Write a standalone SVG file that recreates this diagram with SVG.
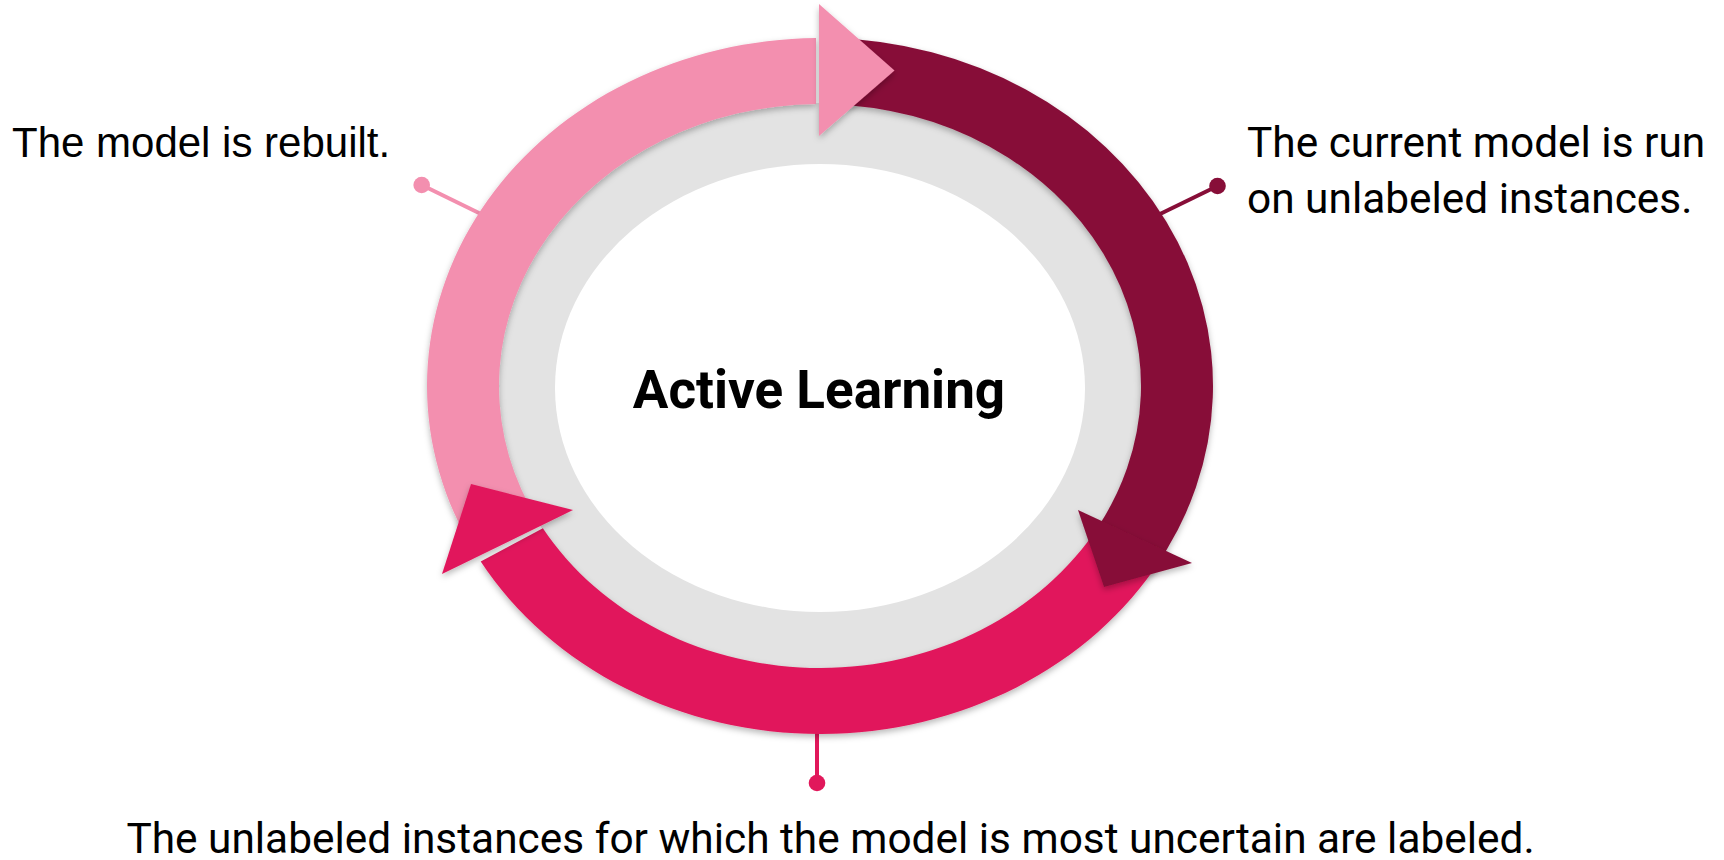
<svg xmlns="http://www.w3.org/2000/svg" width="1724" height="860" viewBox="0 0 1724 860">
  <style>
    .label { font-family: Roboto, "Liberation Sans", sans-serif; font-size: 42.4px; fill: #000; }
    .label-left { font-family: "Liberation Sans", Arial, sans-serif; font-size: 42px; fill: #000; }
    .title { font-family: Roboto, "Liberation Sans", sans-serif; font-size: 53px; font-weight: bold; fill: #000; }
    .pink { fill: #F38FAF; }
    .dark { fill: #870E38; }
    .crimson { fill: #E1185B; }
    .band { filter: url(#shadow); }
    .lead { stroke-width: 4; fill: none; }
  </style>
  <defs>
    <filter id="shadow" x="-10%" y="-10%" width="120%" height="120%">
      <feDropShadow dx="0" dy="3" stdDeviation="3" flood-color="#000" flood-opacity="0.28"/>
    </filter>
  </defs>

  <rect width="1724" height="860" fill="#fff"/>

  <!-- pointer lines from the ring to each caption -->
  <g id="connectors">
    <line class="lead" x1="421.7" y1="185" x2="481" y2="214" stroke="#F38FAF"/>
    <circle cx="421.7" cy="185" r="8.3" class="pink"/>
    <line class="lead" x1="1217.5" y1="186" x2="1160" y2="214" stroke="#870E38"/>
    <circle cx="1217.5" cy="186" r="8.3" class="dark"/>
    <line class="lead" x1="817" y1="730" x2="817" y2="783" stroke="#E1185B"/>
    <circle cx="817" cy="783" r="8.3" class="crimson"/>
  </g>

  <!-- centre: grey ring and white disc -->
  <g id="center">
    <ellipse cx="820" cy="386" rx="322" ry="283" fill="#E3E3E3"/>
    <ellipse cx="820" cy="388" rx="265" ry="224" fill="#FFFFFF"/>
    <text class="title" x="819" y="408" text-anchor="middle">Active Learning</text>
  </g>

  <!-- step 2: label the uncertain instances (bottom arc) -->
  <g id="step-label">
    <path class="crimson band" d="M 1160.35 560 A 393 348 0 0 1 480.71 561.58 L 542.87 528.28 A 321 282 0 0 0 1098 527 Z"/>
    <text class="label" x="830.5" y="853" text-anchor="middle">The unlabeled instances for which the model is most uncertain are labeled.</text>
  </g>

  <!-- step 1: run the current model (right arc) -->
  <g id="step-run">
    <path class="dark band" d="M 830 38.11 A 393 348 0 0 1 1153.28 570.41 L 1092.22 535.44 A 321 282 0 0 0 830 104.14 Z"/>
    <text class="label" x="1247" y="157">The current model is run</text>
    <text class="label" x="1247" y="213">on unlabeled instances.</text>
  </g>

  <!-- step 3: rebuild the model (left arc) -->
  <g id="step-rebuild">
    <path class="pink band" d="M 463.82 533.07 A 393 348 0 0 1 816 38.02 L 816 104.02 A 321 282 0 0 0 529.07 505.18 Z"/>
    <text class="label-left" x="12" y="157">The model is rebuilt.</text>
  </g>

  <!-- arrowheads -->
  <g id="arrowheads">
    <polygon class="pink band" points="819,4 894.5,70.5 819,136"/>
    <polygon class="dark band" points="1078,510 1192,563 1104,587"/>
    <polygon class="crimson band" points="471,484 573,510 442,574"/>
  </g>
</svg>
